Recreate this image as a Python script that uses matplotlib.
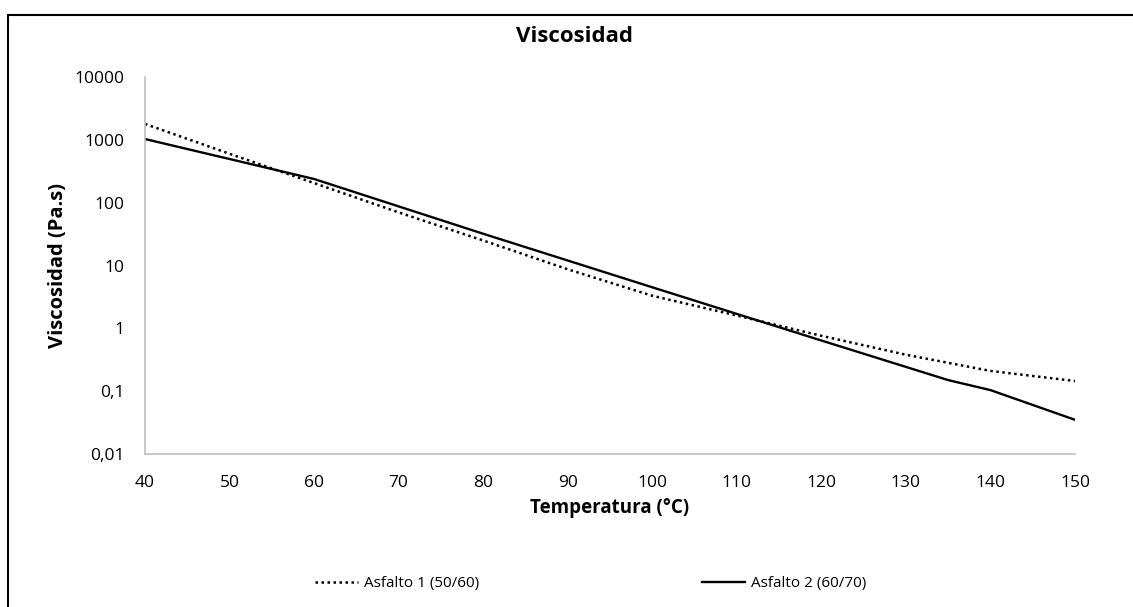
import numpy as np
import matplotlib
matplotlib.use("Agg")
import matplotlib.pyplot as plt
from matplotlib.patches import Rectangle
from matplotlib.ticker import FixedLocator, FixedFormatter

# Viscosidad vs temperatura de los dos asfaltos
temp_a1 = [40, 50, 60, 70, 80, 90, 100, 110, 120, 130, 140, 150]
visc_a1 = [1790, 600, 205, 70, 25, 8.7, 3.3, 1.6, 0.76, 0.38, 0.21, 0.145]

temp_a2 = [40, 60, 80, 100, 120, 135, 140, 150]
visc_a2 = [1030, 238, 32, 4.5, 0.64, 0.15, 0.104, 0.035]

labels = ["Asfalto 1 (50/60)", "Asfalto 2 (60/70)"]
yticks = [0.01, 0.1, 1, 10, 100, 1000, 10000]
yticklabels = ["0,01", "0,1", "1", "10", "100", "1000", "10000"]
xticks = list(range(40, 151, 10))

plt.rcParams['font.family'] = ['Open Sans', 'DejaVu Sans']

W, H = 1133, 607
fig = plt.figure(figsize=(W / 100, H / 100), dpi=100)
ax = fig.add_axes([145 / W, 1 - 454 / H, (1075 - 145) / W, (454 - 77) / H])

ax.plot(temp_a1, visc_a1, color='black', lw=1.8, linestyle=(0, (1, 1.4)),
        label=labels[0])
ax.plot(temp_a2, visc_a2, color='black', lw=1.7, label=labels[1])

ax.set_yscale('log')
ax.set_xlim(40, 150)
ax.set_ylim(0.01, 10000)
ax.yaxis.set_major_locator(FixedLocator(yticks))
ax.yaxis.set_major_formatter(FixedFormatter(yticklabels))
ax.yaxis.set_minor_locator(FixedLocator([]))
ax.set_xticks(xticks)

for s in ['top', 'right']:
    ax.spines[s].set_visible(False)
for s in ['left', 'bottom']:
    ax.spines[s].set_color('#bfbfbf')
    ax.spines[s].set_linewidth(1.2)

ax.tick_params(axis='both', length=0, labelsize=12.5, colors='black')
ax.tick_params(axis='y', pad=14.5)
ax.tick_params(axis='x', pad=15)

ax.set_xlabel("Temperatura (°C)", fontsize=13.5, fontweight='bold', labelpad=5)
ax.set_ylabel("Viscosidad (Pa.s)", fontsize=14.5, fontweight='bold', labelpad=5)

fig.text(574 / W, 1 - 37 / H, "Viscosidad", ha='center', va='center',
         fontsize=16, fontweight='bold')

fig.legend(loc='center', bbox_to_anchor=(591 / W, 1 - 584 / H), ncol=2,
           frameon=False, fontsize=11, handlelength=2.8, handletextpad=0.4,
           columnspacing=14.6)

# marco del gráfico
fig.patches.append(Rectangle((8 / W, -0.05), 1.2, 1 - 15 / H + 0.05,
                             transform=fig.transFigure, fill=False,
                             edgecolor='black', lw=1.5))

fig.savefig("out.png", dpi=100, facecolor='white')
